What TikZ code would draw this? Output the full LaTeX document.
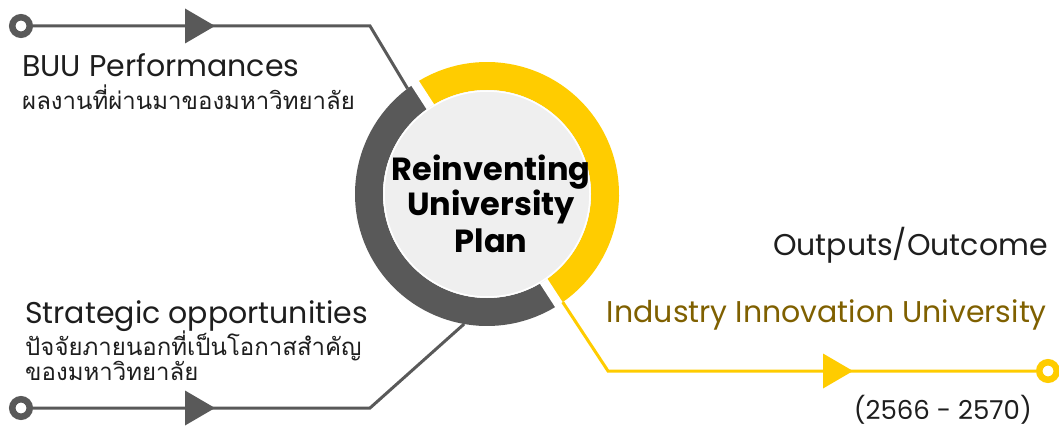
\documentclass[tikz,border=0pt]{standalone}
\usepackage{fontspec}
\setmainfont{Poppins}
\newfontfamily\thaifont[Script=Thai]{Loma}

\definecolor{LineGray}{HTML}{595959}
\definecolor{RingYellow}{HTML}{FFCC00}
\definecolor{Outcome}{HTML}{7F6000}
\definecolor{Disk}{HTML}{EFEFEF}
\definecolor{Ink}{HTML}{1E1E1E}

\begin{document}
\begin{tikzpicture}[x=1pt, y=1pt,
  txt/.style={inner sep=0, text=Ink, font=\fontsize{30}{34}\selectfont},
  thai/.style={inner sep=0, text=Ink, font=\thaifont\fontsize{24}{30}\selectfont},
  endcircle/.style={circle, line width=6.5, fill=white, minimum size=17.5, inner sep=0}]

 \useasboundingbox (0,0) rectangle (1059,-430);

 %%%%%%%%%% Reference points %%%%%%%%%%
 \coordinate (C) at (487,-194);
 \coordinate (topBend) at (370,-26);
 \coordinate (botBend) at (370,-408);
 \coordinate (outBend) at (608,-371);
 \path (C) ++(127:132) coordinate (ringTL);
 \path (C) ++(260:132) coordinate (ringBL);
 \path (C) ++(-55:132) coordinate (ringBR);
 \coordinate (topTri) at (185,-26);
 \coordinate (botTri) at (185,-408);
 \coordinate (outTri) at (823,-371);

 %%%%%%%%%% Ring around the plan %%%%%%%%%%
 \draw [line width=28, color=LineGray] (C) ++(123:118) arc[start angle=123, end angle=303, radius=118] ;
 \draw [line width=28, color=RingYellow] (C) ++(-57:118) arc[start angle=-57, end angle=123, radius=118] ;
 \draw [line width=9, color=white] (C) ++(123:96) -- ++(123:44) ;
 \draw [line width=9, color=white] (C) ++(303:96) -- ++(303:44) ;
 \fill [color=Disk] (C) circle (104) ;
 \draw [line width=1.5, color=white] (C) circle (103) ;

 %%%%%%%%%% End points %%%%%%%%%%
 \node [endcircle, draw=LineGray] (startTop) at (21,-26) {};
 \node [endcircle, draw=LineGray] (startBot) at (21,-408) {};
 \node [endcircle, draw=RingYellow] (endOut) at (1048,-371) {};

 %%%%%%%%%% Connectors %%%%%%%%%%
 \draw [line width=3, color=LineGray] (startTop) -- (topBend) -- (ringTL) ;
 \draw [line width=3, color=LineGray] (startBot) -- (botBend) -- (ringBL) ;
 \draw [line width=3, color=RingYellow] (ringBR) -- (outBend) -- (endOut) ;

 \foreach \p/\c in {topTri/LineGray, botTri/LineGray, outTri/RingYellow}
 {
   \fill [color=\c] (\p) -- ++(0,17.5) -- ++(30,-17.5) -- ++(-30,-17.5) -- cycle ;
 }

 %%%%%%%%%% Texts %%%%%%%%%%
 \node [txt, anchor=base west] (buu) at (22,-77) {BUU Performances};
 \node [thai, anchor=base west] (buuThai) at (22,-110) {ผลงานที่ผ่านมาของมหาวิทยาลัย};
 \node [txt, anchor=base west] (strat) at (25,-323) {Strategic opportunities};
 \node [thai, anchor=base west] (stratThai) at (25,-355) {ปัจจัยภายนอกที่เป็นโอกาสสำคัญ};
 \node [thai, anchor=base west] (stratThaiB) at (25,-380) {ของมหาวิทยาลัย};

 \node [txt, anchor=base, align=center, font=\bfseries\fontsize{32}{36}\selectfont, text=black] (plan) at (491,-252) {Reinventing\\University\\Plan};

 \node [txt, anchor=base east] (outputs) at (1048,-255) {Outputs/Outcome};
 \node [txt, anchor=base east, text=Outcome] (iiu) at (1047,-322) {Industry Innovation University};
 \node [txt, anchor=base east, font=\fontsize{26}{30}\selectfont] (years) at (1032,-419) {(2566 - 2570)};

\end{tikzpicture}
\end{document}
